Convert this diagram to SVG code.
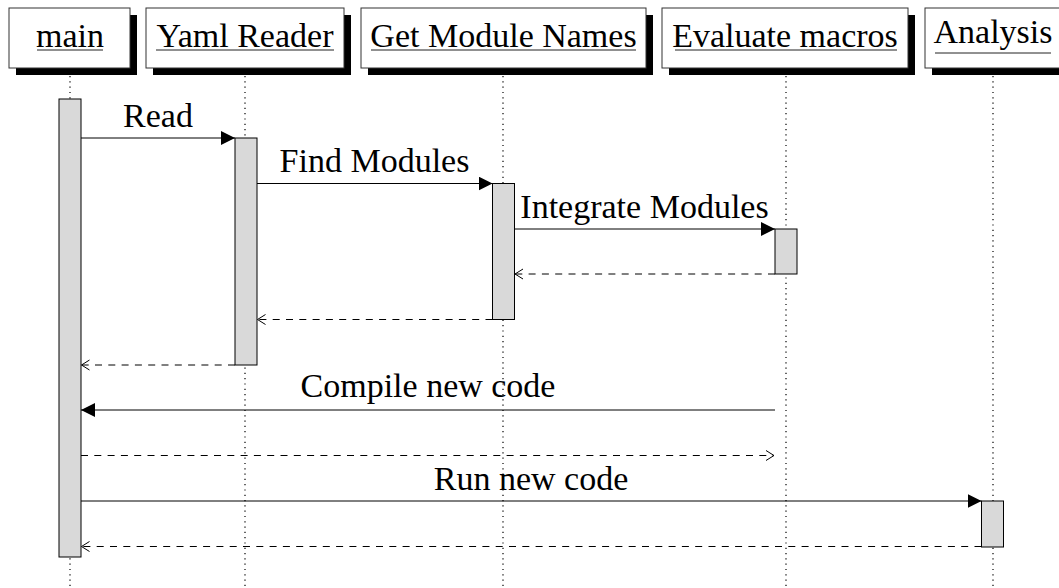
<svg xmlns="http://www.w3.org/2000/svg" width="1059" height="588" viewBox="0 0 1059 588">
<style>
text{font-family:"Liberation Serif","DejaVu Serif",serif;font-size:34px;fill:#000;text-anchor:middle}
.box{fill:#fff;stroke:#333;stroke-width:1}
.shadow{fill:#000}
.ul{stroke:#222;stroke-width:1}
.life{stroke:#000;stroke-width:1.2;stroke-dasharray:1.2 4.1;fill:none}
.bar{fill:#d9d9d9;stroke:#000;stroke-width:1}
.msg{stroke:#000;stroke-width:1;fill:none}
.ret{stroke:#000;stroke-width:1;fill:none;stroke-dasharray:7 6.3}
</style>
<defs>
<marker id="fill" viewBox="0 0 14 14" refX="14" refY="7" markerWidth="14" markerHeight="14" markerUnits="userSpaceOnUse" orient="auto">
<path d="M0,0 L14,7 L0,14 Z" fill="#000"/>
</marker>
<marker id="open" viewBox="0 0 10 12" refX="9" refY="6" markerWidth="10" markerHeight="12" markerUnits="userSpaceOnUse" orient="auto">
<path d="M1,1 L9,6 L1,11" fill="none" stroke="#000" stroke-width="1"/>
</marker>
</defs>

<g id="lifelines">
<line class="life" x1="70" y1="76" x2="70" y2="588"/>
<line class="life" x1="245" y1="76" x2="245" y2="588"/>
<line class="life" x1="503" y1="76" x2="503" y2="588"/>
<line class="life" x1="786" y1="76" x2="786" y2="588"/>
<line class="life" x1="993" y1="76" x2="993" y2="588"/>
</g>

<g id="node-main">
<rect class="shadow" x="16" y="15" width="121" height="60"/>
<rect class="box" x="9" y="8" width="121" height="60"/>
<text x="70" y="47">main</text>
<line class="ul" x1="37" y1="50" x2="103" y2="50"/>
</g>
<g id="node-yaml">
<rect class="shadow" x="153" y="15" width="198" height="60"/>
<rect class="box" x="146" y="8" width="198" height="60"/>
<text x="245" y="47">Yaml Reader</text>
<line class="ul" x1="156" y1="50" x2="334" y2="50"/>
</g>
<g id="node-getmodules">
<rect class="shadow" x="368" y="15" width="285" height="60"/>
<rect class="box" x="361" y="8" width="285" height="60"/>
<text x="503.5" y="47">Get Module Names</text>
<line class="ul" x1="371" y1="50" x2="636" y2="50"/>
</g>
<g id="node-evaluate">
<rect class="shadow" x="669" y="15" width="246" height="60"/>
<rect class="box" x="662" y="8" width="246" height="60"/>
<text x="785" y="47">Evaluate macros</text>
<line class="ul" x1="675" y1="50" x2="897" y2="50"/>
</g>
<g id="node-analysis">
<rect class="shadow" x="932" y="15" width="136" height="60"/>
<rect class="box" x="925" y="8" width="136" height="60"/>
<text x="993" y="43">Analysis</text>
<line class="ul" x1="935" y1="53" x2="1051" y2="53"/>
</g>

<g id="activations">
<rect class="bar" x="59" y="99" width="22" height="458"/>
<rect class="bar" x="235" y="138" width="22" height="227"/>
<rect class="bar" x="492.5" y="183.5" width="22" height="136"/>
<rect class="bar" x="775" y="229" width="22" height="45"/>
<rect class="bar" x="981.5" y="501" width="22" height="46"/>
</g>

<g id="connectors">
<line class="msg" x1="81" y1="138" x2="235" y2="138" marker-end="url(#fill)"/>
<text x="158" y="127">Read</text>
<line class="msg" x1="257" y1="183.5" x2="492.5" y2="183.5" marker-end="url(#fill)"/>
<text x="374.5" y="172">Find Modules</text>
<line class="msg" x1="514.5" y1="229" x2="775" y2="229" marker-end="url(#fill)"/>
<text x="644.5" y="218">Integrate Modules</text>
<line class="ret" x1="775" y1="274" x2="515" y2="274" marker-end="url(#open)"/>
<line class="ret" x1="492.5" y1="319.5" x2="257.5" y2="319.5" marker-end="url(#open)"/>
<line class="ret" x1="235" y1="365" x2="81.5" y2="365" marker-end="url(#open)"/>
<line class="msg" x1="775" y1="410" x2="81" y2="410" marker-end="url(#fill)"/>
<text x="428" y="397">Compile new code</text>
<line class="ret" x1="81" y1="455.5" x2="774" y2="455.5" marker-end="url(#open)"/>
<line class="msg" x1="81" y1="501" x2="981.5" y2="501" marker-end="url(#fill)"/>
<text x="531" y="490">Run new code</text>
<line class="ret" x1="981.5" y1="546.5" x2="81.5" y2="546.5" marker-end="url(#open)"/>
</g>
</svg>
